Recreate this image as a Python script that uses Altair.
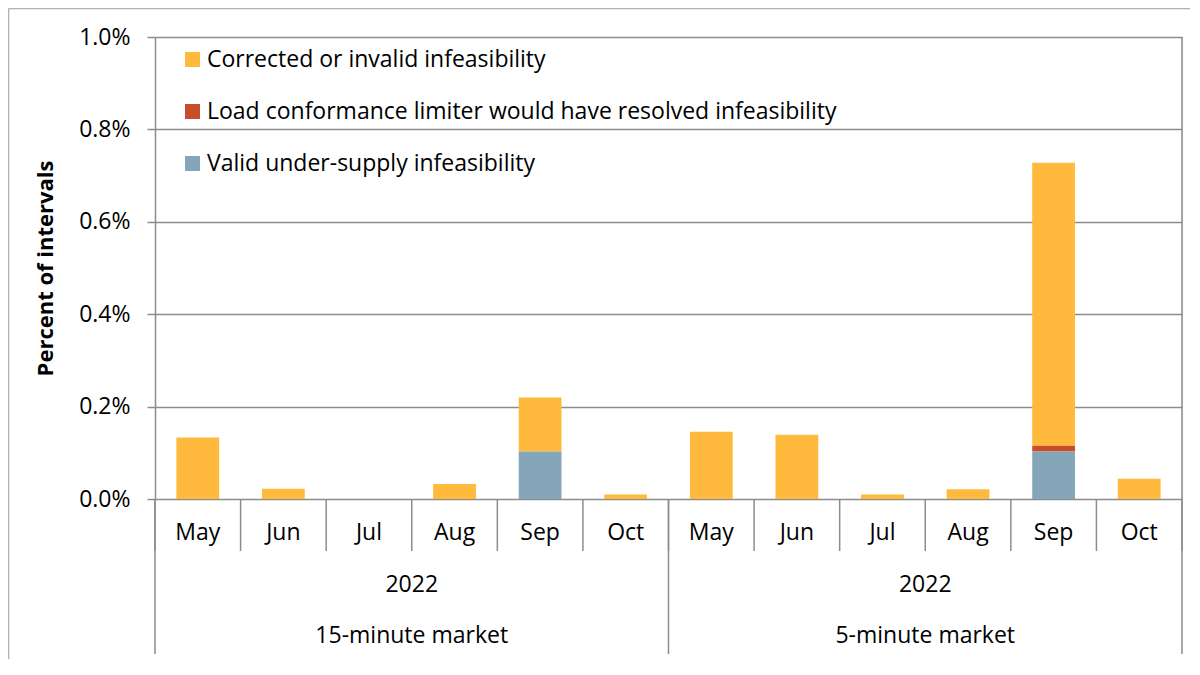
import altair as alt
import pandas as pd

months = ["May", "Jun", "Jul", "Aug", "Sep", "Oct"]
markets = ["15-minute market", "5-minute market"]
year_label = "2022"
series = [
    "Corrected or invalid infeasibility",
    "Load conformance limiter would have resolved infeasibility",
    "Valid under-supply infeasibility",
]
colors = ["#FFB93C", "#C94C2B", "#84A6B8"]
stack_rank = [2, 1, 0]  # Valid at the bottom, Corrected on top

valid_15 = [0, 0, 0, 0, 0.103, 0]
load_15 = [0, 0, 0, 0, 0, 0]
corr_15 = [0.133, 0.022, 0, 0.0325, 0.1165, 0.0095]
valid_5 = [0, 0, 0, 0, 0.103, 0]
load_5 = [0, 0, 0, 0, 0.012, 0]
corr_5 = [0.1455, 0.139, 0.0095, 0.021, 0.613, 0.0436]

y_ticks = [0.0, 0.2, 0.4, 0.6, 0.8, 1.0]

FONT = "Open Sans"
FS = 23
GRID = "#8C8C8C"

values_by_market = [
    [corr_15, load_15, valid_15],
    [corr_5, load_5, valid_5],
]

rows = []
for mi, market in enumerate(markets):
    for j, m in enumerate(months):
        idx = mi * len(months) + j
        for si, s in enumerate(series):
            v = values_by_market[mi][si][j]
            if v > 0:
                rows.append({"x0": idx + 0.25, "x1": idx + 0.75, "value": v,
                             "series": s, "rank": stack_rank[si]})
bars_df = pd.DataFrame(rows)

n_cat = len(months) * len(markets)
month_df = pd.DataFrame({"x": [i + 0.5 for i in range(n_cat)],
                         "label": months * len(markets)})
sep_df = pd.DataFrame({"x": list(range(n_cat + 1))})
group_sep_df = pd.DataFrame({"x": [i * len(months) for i in range(len(markets) + 1)]})
group_df = pd.DataFrame({"x": [i * len(months) + len(months) / 2 for i in range(len(markets))],
                         "market": markets, "year": [year_label] * len(markets)})
right_df = pd.DataFrame({"x": [n_cat]})

xscale = alt.Scale(domain=[0, n_cat])

bars = alt.Chart(bars_df).transform_stack(
    stack="value", groupby=["x0"], as_=["y0", "y1"],
    sort=[alt.SortField("rank", order="ascending")],
).mark_bar().encode(
    x=alt.X("x0:Q", scale=xscale, axis=None),
    x2="x1:Q",
    y=alt.Y("y0:Q",
            scale=alt.Scale(domain=[0, 1], nice=False),
            axis=alt.Axis(values=y_ticks,
                          labelExpr="format(datum.value, '.1f') + '%'",
                          title="Percent of intervals",
                          grid=True, gridColor=GRID, gridWidth=1.5,
                          domainColor=GRID, domainWidth=1.5,
                          tickColor=GRID, tickWidth=1.5, tickSize=8,
                          labelPadding=17, labelFontSize=FS, labelFont=FONT,
                          labelColor="#000000",
                          titleFont=FONT, titleFontSize=FS - 1, titleFontWeight="bold",
                          titleColor="#000000",
                          titleX=-110, titleY=231, titleAngle=270,
                          titleBaseline="middle", titleAlign="center")),
    y2="y1:Q",
    color=alt.Color("series:N",
                    scale=alt.Scale(domain=series, range=colors),
                    legend=alt.Legend(title=None, orient="none", legendX=26, legendY=11,
                                      symbolType="square", symbolSize=225,
                                      symbolStrokeWidth=0, labelFontSize=FS,
                                      labelFont=FONT, labelColor="#000000",
                                      rowPadding=28, labelOffset=3, labelLimit=900)),
)

seps = alt.Chart(sep_df).mark_rule(color=GRID, strokeWidth=1.5).encode(
    x=alt.X("x:Q", scale=xscale, axis=None),
    y=alt.value(462), y2=alt.value(514))

group_seps = alt.Chart(group_sep_df).mark_rule(color=GRID, strokeWidth=1.5).encode(
    x=alt.X("x:Q", scale=xscale, axis=None),
    y=alt.value(462), y2=alt.value(617))

right_border = alt.Chart(right_df).mark_rule(color=GRID, strokeWidth=1.5).encode(
    x=alt.X("x:Q", scale=xscale, axis=None),
    y=alt.value(0), y2=alt.value(462))

month_text = alt.Chart(month_df).mark_text(font=FONT, fontSize=FS, color="#000000",
                                           baseline="middle").encode(
    x=alt.X("x:Q", scale=xscale, axis=None), y=alt.value(496), text="label:N")

year_text = alt.Chart(group_df).mark_text(font=FONT, fontSize=FS, color="#000000",
                                          baseline="middle").encode(
    x=alt.X("x:Q", scale=xscale, axis=None), y=alt.value(548), text="year:N")

market_text = alt.Chart(group_df).mark_text(font=FONT, fontSize=FS, color="#000000",
                                            baseline="middle").encode(
    x=alt.X("x:Q", scale=xscale, axis=None), y=alt.value(599), text="market:N")

frame_left = alt.Chart(right_df).mark_rule(color="#B0B0B0", strokeWidth=1.5).encode(
    x=alt.value(-146.5), y=alt.value(-28.5), y2=alt.value(632))
frame_top = alt.Chart(right_df).mark_rule(color="#B0B0B0", strokeWidth=1.5).encode(
    x=alt.value(-146.5), x2=alt.value(1040), y=alt.value(-28.5))

chart = alt.layer(
    frame_left, frame_top, right_border, bars, seps, group_seps,
    month_text, year_text, market_text,
).properties(
    width=1027, height=462,
    autosize=alt.AutoSizeParams(type="none"),
    padding={"left": 147, "top": 29, "right": 8, "bottom": 160},
).configure_view(stroke=None).configure(background="white")

chart.save("out.html", embed_options={"renderer": "svg", "actions": False})
